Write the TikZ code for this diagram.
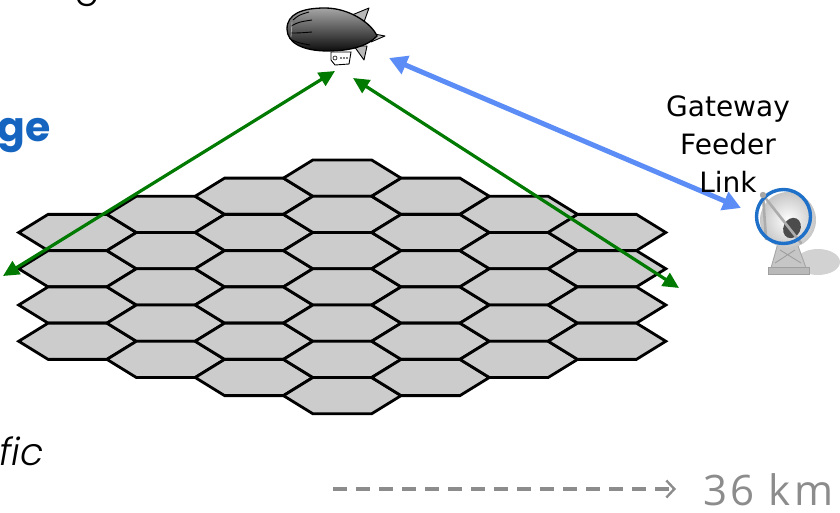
\documentclass[tikz,border=0pt]{standalone}
\usepackage{fontspec}
\usetikzlibrary{arrows.meta}

\newfontfamily\labelfont{DejaVu Sans}
\newfontfamily\geofont{Poppins}
\newfontfamily\geolight{Poppins}[UprightFont=* Light, ItalicFont=* Light Italic]
\newfontfamily\kmfont{Open Sans}[LetterSpace=8]

\definecolor{linkgreen}{RGB}{0,122,0}
\definecolor{feedblue}{RGB}{92,141,246}
\definecolor{titleblue}{RGB}{21,101,192}
\definecolor{dishblue}{RGB}{30,112,200}
\definecolor{cellgray}{RGB}{204,204,204}
\definecolor{scalegray}{RGB}{140,140,140}

\tikzset{
  hexcell/.style={fill=cellgray, draw=black, line width=2.8pt, line join=miter},
  userlink/.style={draw=linkgreen, line width=3.2pt,
    {Triangle[length=16pt,width=15pt]}-{Triangle[length=16pt,width=15pt]}},
  feederlink/.style={draw=feedblue, line width=5pt,
    {Triangle[length=18pt,width=19pt]}-{Triangle[length=18pt,width=19pt]}},
  scaledash/.style={draw=scalegray, line width=3.2pt, dash pattern=on 14pt off 9pt,
    -{Straight Barb[length=8pt,width=17pt,line width=2.4pt]}},
  finpart/.style={fill=gray!55, draw=black, line width=0.9pt, line join=round},
  gwtext/.style={font=\labelfont\fontsize{28}{28}\selectfont, anchor=base, inner sep=0pt},
}

\begin{document}
\begin{tikzpicture}[x=1pt,y=-1pt]
\useasboundingbox (0,0) rectangle (840,513);
\clip (0,0) rectangle (840,513);

% hexagonal cell layout: 7 columns of 4..7 cells
\foreach \i in {0,...,6}{
  \pgfmathtruncatemacro\ncell{7-abs(\i-3)}
  \pgfmathsetmacro\cx{77.5+88.25*\i}
  \pgfmathsetmacro\ty{160+18.125*abs(\i-3)}
  \foreach \k in {1,...,\ncell}{
    \pgfmathsetmacro\cy{\ty+18.125+36.25*(\k-1)}
    \draw[hexcell] (\cx-58.8,\cy) -- (\cx-29.4,\cy-18.125) -- (\cx+29.4,\cy-18.125)
      -- (\cx+58.8,\cy) -- (\cx+29.4,\cy+18.125) -- (\cx-29.4,\cy+18.125) -- cycle;
  }
}

% airship
\filldraw[finpart] (352,15) -- (369,8) -- (364,22) -- cycle;
\filldraw[finpart] (369,33) -- (385,36) -- (371,42) -- cycle;
\filldraw[finpart] (354,46) -- (364,60) -- (367,46) -- cycle;
\draw[line width=1.3pt, top color=black!35, bottom color=black!95]
  (287,29) .. controls (287,14) and (302,8) .. (325,8)
  .. controls (350,8) and (372,24) .. (377,36)
  .. controls (368,46) and (350,51) .. (328,51)
  .. controls (303,51) and (287,43) .. (287,29) -- cycle;
\draw[line width=0.9pt] (293,20) .. controls (299,15) .. (309,12);
\draw[line width=0.9pt] (291,26) .. controls (299,22) .. (312,20);
\draw[line width=0.9pt] (291,33) .. controls (299,33) .. (312,32);
\draw[line width=0.9pt] (292,40) .. controls (299,43) .. (310,45);
\draw[line width=0.8pt, gray!70] (292,22) -- (291,37);
\filldraw[fill=white, draw=black, line width=0.9pt]
  (331,52) -- (351,52) -- (349,64) -- (335,65) -- (331,60) -- cycle;
\draw[line width=0.6pt] (335,58) circle (2pt);
\fill (341,58) circle (0.8pt) (344,58) circle (0.8pt) (347,58) circle (0.8pt);
\coordinate (blimpL) at (335,71);
\coordinate (blimpR) at (353,78);
\coordinate (blimpF) at (389,58);

% gateway dish
\fill[gray!35] (818,262) ellipse (22pt and 13pt);
\filldraw[fill=gray!45, draw=gray!70, line width=0.9pt]
  (778,243) -- (797,243) -- (806,268) -- (771,268) -- cycle;
\draw[gray!75, line width=0.9pt] (780,250) -- (801,263) (795,250) -- (775,263);
\filldraw[fill=gray!55, draw=gray!75, line width=0.9pt] (768,267) rectangle (809,274);
\shade[inner color=white, outer color=gray!45] (788,220) circle (28pt);
\fill[black!70, rotate around={-25:(792,228)}] (792,228) ellipse (8.5pt and 10.5pt);
\draw[gray!65, line width=2.6pt, line cap=round] (763,195) -- (801,243);
\draw[gray!65, line width=2.6pt, line cap=round] (763,195) -- (766,239);
\draw[dishblue, line width=3.4pt] (783.5,216.5) circle (27pt);
\fill[gray!70] (763,195) circle (3.2pt);
\coordinate (dishF) at (741,208);

% edge-of-footprint ends of the user links
\coordinate (edgeL) at (3,276);
\coordinate (edgeR) at (679,288);

% links
\draw[userlink] (edgeL) -- (blimpL);
\draw[userlink] (blimpR) -- (edgeR);
\draw[feederlink] (blimpF) -- (dishF);

% labels
\node[gwtext] (gw1) at (728,117) {Gateway};
\node[gwtext] (gw2) at (728,155) {Feeder};
\node[gwtext] (gw3) at (728,193) {Link};

\node[font=\geolight\fontsize{38}{38}\selectfont, anchor=base west, inner sep=0pt]
  (hdr) at (74,-3) {ge};
\node[font=\geofont\bfseries\fontsize{41}{41}\selectfont, text=titleblue,
  anchor=base east, inner sep=0pt] (ttl) at (51,142) {ge};
\node[font=\geolight\itshape\fontsize{38}{38}\selectfont, anchor=base east,
  inner sep=0pt] (note) at (44,465) {fic};

% distance scale
\node[font=\kmfont\fontsize{42}{42}\selectfont, text=scalegray, anchor=base west,
  inner sep=0pt] (km) at (703,505) {36 km};
\coordinate (dashL) at (333,489);
\coordinate (dashR) at (676,489);
\draw[scaledash] (dashL) -- (dashR);
\end{tikzpicture}
\end{document}
